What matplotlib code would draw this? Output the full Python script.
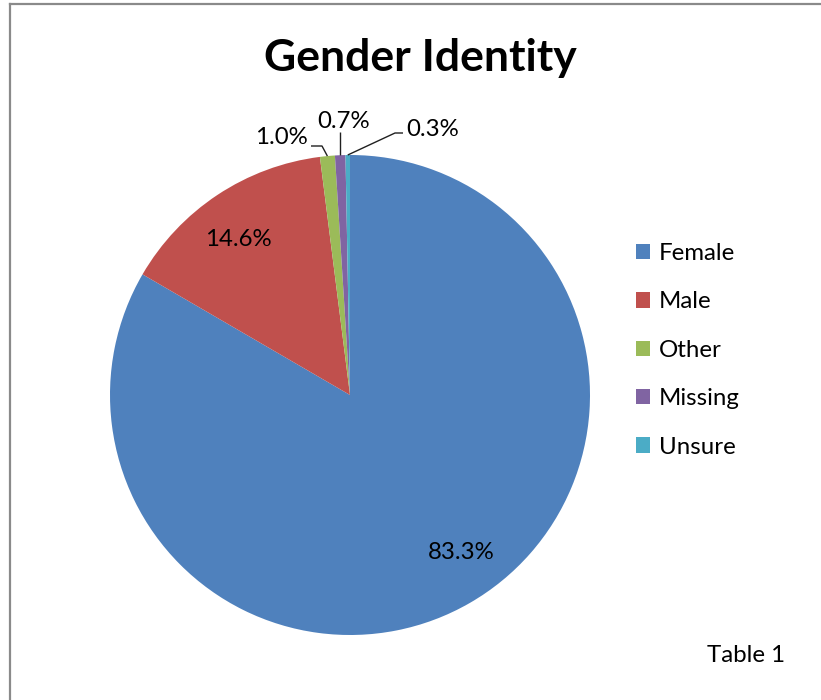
import matplotlib
matplotlib.use("Agg")
import matplotlib.pyplot as plt
from matplotlib.lines import Line2D
from matplotlib.patches import Patch
import numpy as np

plt.rcParams["font.family"] = ["Lato", "DejaVu Sans"]

# ---- data ----
categories = ["Female", "Male", "Other", "Missing", "Unsure"]
shares = [83.3, 14.6, 1.0, 0.7, 0.3]
labels = ["83.3%", "14.6%", "1.0%", "0.7%", "0.3%"]
colors = ["#4F81BD", "#C0504D", "#9BBB59", "#8064A2", "#4BACC6"]

W, H = 821, 700
fig = plt.figure(figsize=(W / 100, H / 100), dpi=100)
fig.patch.set_facecolor("white")

# pie area: centre (350,395) px, radius 240 px
cx, cy, r = 350, 395, 240
ax = fig.add_axes([(cx - r) / W, (H - cy - r) / H, 2 * r / W, 2 * r / H])
wedges, _ = ax.pie(shares, colors=colors, startangle=90, counterclock=False,
                   radius=1.0, wedgeprops=dict(linewidth=0))
ax.set_xlim(-1, 1); ax.set_ylim(-1, 1)
ax.set_aspect("equal")
ax.set_axis_off()

def px(x, y):
    return (x - cx) / r, (cy - y) / r

def anchor(w):
    a = np.deg2rad((w.theta1 + w.theta2) / 2)
    return np.cos(a), np.sin(a)

FS = 17.3
# inside labels for the big slices
offs = {0: (0.07, 0.03), 1: (-0.03, -0.01)}
for i in (0, 1):
    w = wedges[i]
    a = np.deg2rad((w.theta1 + w.theta2) / 2)
    ax.text(0.79 * np.cos(a) + offs[i][0], 0.79 * np.sin(a) + offs[i][1],
            labels[i], ha="center", va="center", fontsize=FS)

# outside labels with leader lines
lk = dict(color="#202020", lw=1.0, solid_capstyle="butt", clip_on=False)
# Other
ax_, ay_ = anchor(wedges[2])
e1, e0 = px(322, 146), px(311, 146)
ax.plot([e0[0], e1[0], ax_], [e0[1], e1[1], ay_], **lk)
t = px(281, 137)
ax.text(t[0], t[1], labels[2], ha="center", va="center", fontsize=FS, clip_on=False)
# Missing
ax_, ay_ = anchor(wedges[3])
top = px(339, 132)
ax.plot([ax_, ax_], [ay_, top[1]], **lk)
t = px(344, 121)
ax.text(t[0], t[1], labels[3], ha="center", va="center", fontsize=FS, clip_on=False)
# Unsure
ax_, ay_ = anchor(wedges[4])
e1, e0 = px(395, 133), px(403, 133)
ax.plot([ax_, e1[0], e0[0]], [ay_, e1[1], e0[1]], **lk)
t = px(433, 129)
ax.text(t[0], t[1], labels[4], ha="center", va="center", fontsize=FS, clip_on=False)

# title
fig.text(420 / W, 1 - 58 / H, "Gender Identity", ha="center", va="center",
         fontsize=32, fontweight="bold")

# legend
handles = [Patch(facecolor=c, edgecolor="none", label=n) for c, n in zip(colors, categories)]
fig.legend(handles=handles, loc="upper left", bbox_to_anchor=(636 / W, 1 - 243 / H),
           frameon=False, fontsize=FS, handlelength=0.6, handleheight=0.6,
           handletextpad=0.35, labelspacing=1.14, borderaxespad=0, borderpad=0)

fig.text(746 / W, 1 - 655 / H, "Table 1", ha="center", va="center", fontsize=FS)

# frame on left and top
bc = "#8a8a8a"
fig.add_artist(Line2D([10 / W, 10 / W], [0, 1 - 4 / H], color=bc, lw=1.6))
fig.add_artist(Line2D([10 / W, 1], [1 - 4 / H, 1 - 4 / H], color=bc, lw=1.6))

fig.savefig("out.png", dpi=100, facecolor="white")
